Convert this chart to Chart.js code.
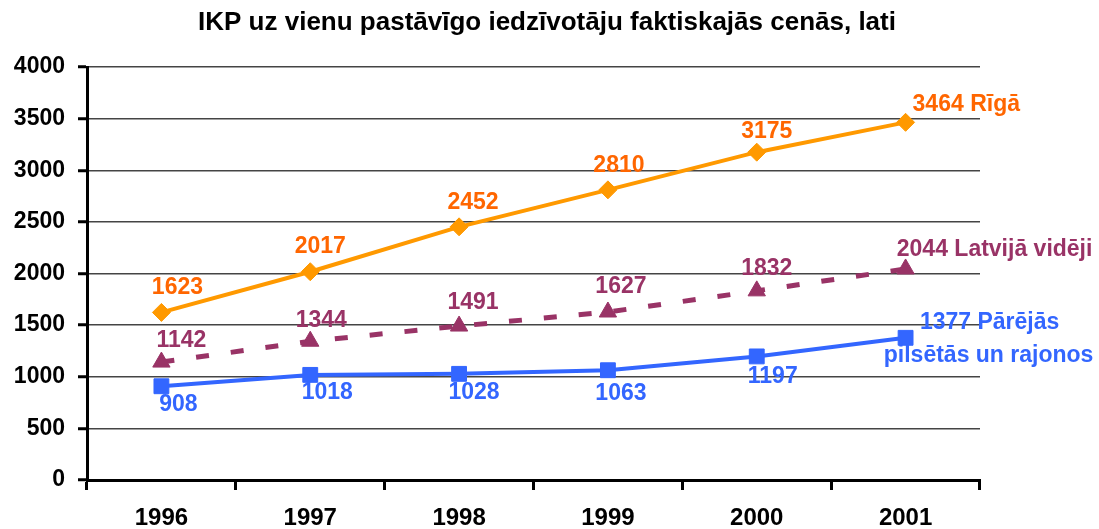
<!DOCTYPE html>
<html>
<head>
<meta charset="utf-8">
<script src="https://cdn.jsdelivr.net/npm/chart.js@4/dist/chart.umd.min.js"></script>
<style>
html,body{margin:0;padding:0;background:#fff;}
#wrap{width:1099px;height:529px;position:relative;}
</style>
</head>
<body>
<div id="wrap"><canvas id="c" width="1099" height="529"></canvas></div>
<script>
// ---- data ----
const titleText = 'IKP uz vienu pastāvīgo iedzīvotāju faktiskajās cenās, lati';
const categories = ['1996', '1997', '1998', '1999', '2000', '2001'];
const rigaValues = [1623, 2017, 2452, 2810, 3175, 3464];
const latvijaValues = [1142, 1344, 1491, 1627, 1832, 2044];
const parejasValues = [908, 1018, 1028, 1063, 1197, 1377];
const seriesNames = ['Rīgā', 'Latvijā vidēji', ['Pārējās', 'pilsētās un rajonos']];
const yMin = 0, yMax = 4000, yStep = 500;

const FONT = '"Liberation Sans", Arial, sans-serif';
const FS = 23;

// label offsets (style): [dx, dy] from point to label center
const labelStyles = [
  { color: '#FF6600', offsets: [[16,-25],[10,-25],[14,-24],[11,-24],[10,-21],[7,-18]], lastAlign: 'left' },
  { color: '#993366', offsets: [[20,-21],[11,-21],[14,-23],[13,-25],[10,-22],[89,-19]], lastAlign: 'center' },
  { color: '#3366FF', offsets: [[17,18],[17,18],[15,19],[13,23],[16,20],[84,-15]], lastAlign: 'center' }
];

const titlePlugin = {
  id: 'manualTitle',
  afterDraw(chart) {
    const ctx = chart.ctx;
    ctx.save();
    ctx.font = 'bold 26px ' + FONT;
    ctx.fillStyle = '#000';
    ctx.textAlign = 'center';
    ctx.textBaseline = 'middle';
    ctx.fillText(titleText, 547, 23);
    ctx.restore();
  }
};

const labelPlugin = {
  id: 'pointLabels',
  afterDatasetsDraw(chart) {
    const ctx = chart.ctx;
    ctx.save();
    ctx.font = 'bold ' + FS + 'px ' + FONT;
    ctx.textBaseline = 'middle';
    chart.data.datasets.forEach((ds, di) => {
      const meta = chart.getDatasetMeta(di);
      const st = labelStyles[di];
      ctx.fillStyle = st.color;
      meta.data.forEach((pt, i) => {
        const [dx, dy] = st.offsets[i];
        const v = ds.data[i];
        const last = i === ds.data.length - 1;
        if (!last) {
          ctx.textAlign = 'center';
          ctx.fillText(String(v), pt.x + dx, pt.y + dy);
        } else {
          const name = seriesNames[di];
          if (Array.isArray(name)) {
            ctx.textAlign = 'center';
            ctx.fillText(v + ' ' + name[0], pt.x + dx, pt.y + dy);
            ctx.fillText(name[1], pt.x + dx - 1, pt.y + dy + 33);
          } else {
            ctx.textAlign = st.lastAlign;
            ctx.fillText(v + ' ' + name, pt.x + dx, pt.y + dy);
          }
        }
      });
    });
    ctx.restore();
  }
};

new Chart(document.getElementById('c'), {
  type: 'line',
  data: {
    labels: categories,
    datasets: [
      {
        label: 'Rīgā',
        data: rigaValues,
        borderColor: '#FF9900',
        backgroundColor: '#FF9900',
        borderWidth: 4,
        pointStyle: 'rectRot',
        pointRadius: 9,
        pointBorderWidth: 1,
        pointBackgroundColor: '#FF9900',
        pointBorderColor: '#FF9900',
        tension: 0
      },
      {
        label: 'Latvijā vidēji',
        data: latvijaValues,
        borderColor: '#993366',
        backgroundColor: '#993366',
        borderWidth: 5,
        borderDash: [13, 22],
        pointStyle: 'triangle',
        pointRadius: 10,
        pointBorderWidth: 1,
        pointBackgroundColor: '#993366',
        pointBorderColor: '#993366',
        tension: 0
      },
      {
        label: 'Pārējās pilsētās un rajonos',
        data: parejasValues,
        borderColor: '#3366FF',
        backgroundColor: '#3366FF',
        borderWidth: 4,
        pointStyle: 'rect',
        pointRadius: 10.5,
        pointBorderWidth: 1,
        pointBackgroundColor: '#3366FF',
        pointBorderColor: '#3366FF',
        tension: 0
      }
    ]
  },
  options: {
    responsive: false,
    animation: false,
    layout: { padding: { top: 67, right: 119, left: 0, bottom: 0 } },
    plugins: {
      legend: { display: false },
      title: { display: false },
      tooltip: { enabled: false }
    },
    scales: {
      x: {
        type: 'category',
        offset: true,
        grid: {
          offset: true,
          drawOnChartArea: false,
          drawTicks: true,
          tickLength: 10,
          tickColor: '#000',
          tickWidth: 3,
          color: '#000'
        },
        border: { display: true, color: '#000', width: 3 },
        ticks: {
          color: '#000',
          font: { family: FONT, size: 24, weight: 'bold' },
          padding: 14,
          maxRotation: 0
        },
        afterFit(s) { s.height = 49; }
      },
      y: {
        min: yMin,
        max: yMax,
        grid: {
          color: '#444',
          lineWidth: 1.5,
          tickLength: 9,
          tickColor: '#000',
          tickWidth: 3
        },
        border: { display: true, color: '#000', width: 3 },
        ticks: {
          stepSize: yStep,
          color: '#000',
          font: { family: FONT, size: FS, weight: 'bold' },
          padding: 13,
          callback: (v) => String(v)
        },
        afterFit(s) { s.width = 87; }
      }
    }
  },
  plugins: [titlePlugin, labelPlugin]
});
</script>
</body>
</html>
